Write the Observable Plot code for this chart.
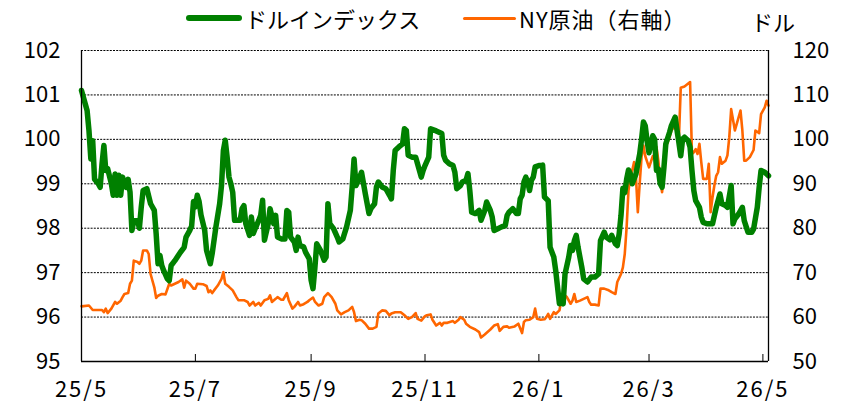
<!DOCTYPE html>
<html><head><meta charset="utf-8">
<script src="https://cdn.jsdelivr.net/npm/d3@7"></script>
<script src="https://cdn.jsdelivr.net/npm/@observablehq/plot@0.6"></script>
<style>
body{margin:0;background:#fff;}
#wrap{position:relative;width:847px;height:403px;font-family:'Noto Sans CJK JP',sans-serif;overflow:hidden;}
#legend{position:relative;width:847px;height:38px;}
.sw{position:absolute;border-radius:3px;}
.lt{position:absolute;font-size:22px;line-height:22px;color:#000;white-space:nowrap;}
</style></head><body>
<div id="wrap"><div id="legend"></div><div id="chart"></div></div>
<script>
const seriesNames = ["ドルインデックス", "NY原油（右軸）"];
const seriesColors = ["#008000", "#ff6600"];
const unitLabel = "ドル";
const leftTicks = [95, 96, 97, 98, 99, 100, 101, 102];
const rightTicks = [50, 60, 70, 80, 90, 100, 110, 120];
const tickDates = ["2025-05-01","2025-07-01","2025-09-01","2025-11-01","2026-01-01","2026-03-01","2026-05-01"];
const tickLabels = ["25/5","25/7","25/9","25/11","26/1","26/3","26/5"];
const xDomain = ["2025-05-01","2026-05-04"];

const dxDates = ["2025-05-01","2025-05-04","2025-05-05","2025-05-06","2025-05-07","2025-05-08","2025-05-10","2025-05-11","2025-05-12","2025-05-13","2025-05-14","2025-05-15","2025-05-17","2025-05-18","2025-05-19","2025-05-20","2025-05-21","2025-05-22","2025-05-23","2025-05-25","2025-05-26","2025-05-27","2025-05-28","2025-05-29","2025-05-31","2025-06-01","2025-06-02","2025-06-03","2025-06-05","2025-06-07","2025-06-09","2025-06-10","2025-06-11","2025-06-12","2025-06-13","2025-06-14","2025-06-16","2025-06-17","2025-06-18","2025-06-20","2025-06-23","2025-06-25","2025-06-26","2025-06-28","2025-06-29","2025-06-30","2025-07-01","2025-07-02","2025-07-03","2025-07-04","2025-07-06","2025-07-07","2025-07-09","2025-07-10","2025-07-12","2025-07-14","2025-07-15","2025-07-16","2025-07-17","2025-07-18","2025-07-19","2025-07-20","2025-07-21","2025-07-22","2025-07-24","2025-07-25","2025-07-26","2025-07-27","2025-07-28","2025-07-30","2025-07-31","2025-08-01","2025-08-02","2025-08-04","2025-08-05","2025-08-06","2025-08-07","2025-08-09","2025-08-10","2025-08-12","2025-08-13","2025-08-14","2025-08-16","2025-08-18","2025-08-19","2025-08-20","2025-08-21","2025-08-23","2025-08-24","2025-08-25","2025-08-26","2025-08-28","2025-08-29","2025-08-31","2025-09-01","2025-09-02","2025-09-03","2025-09-04","2025-09-06","2025-09-08","2025-09-09","2025-09-10","2025-09-11","2025-09-13","2025-09-15","2025-09-16","2025-09-18","2025-09-20","2025-09-22","2025-09-23","2025-09-24","2025-09-25","2025-09-27","2025-09-28","2025-09-30","2025-10-02","2025-10-03","2025-10-05","2025-10-06","2025-10-07","2025-10-09","2025-10-11","2025-10-13","2025-10-14","2025-10-15","2025-10-16","2025-10-18","2025-10-20","2025-10-21","2025-10-22","2025-10-23","2025-10-25","2025-10-27","2025-10-28","2025-10-30","2025-10-31","2025-11-01","2025-11-03","2025-11-04","2025-11-07","2025-11-10","2025-11-11","2025-11-12","2025-11-14","2025-11-16","2025-11-17","2025-11-18","2025-11-20","2025-11-21","2025-11-23","2025-11-24","2025-11-25","2025-11-26","2025-11-28","2025-11-30","2025-12-01","2025-12-03","2025-12-04","2025-12-06","2025-12-07","2025-12-08","2025-12-10","2025-12-12","2025-12-14","2025-12-15","2025-12-16","2025-12-18","2025-12-20","2025-12-21","2025-12-22","2025-12-23","2025-12-24","2025-12-25","2025-12-26","2025-12-27","2025-12-28","2025-12-29","2025-12-30","2026-01-01","2026-01-02","2026-01-03","2026-01-04","2026-01-06","2026-01-07","2026-01-09","2026-01-10","2026-01-12","2026-01-13","2026-01-14","2026-01-15","2026-01-17","2026-01-18","2026-01-19","2026-01-20","2026-01-21","2026-01-22","2026-01-24","2026-01-25","2026-01-27","2026-01-29","2026-01-31","2026-02-02","2026-02-03","2026-02-05","2026-02-06","2026-02-08","2026-02-09","2026-02-11","2026-02-12","2026-02-13","2026-02-14","2026-02-15","2026-02-16","2026-02-17","2026-02-18","2026-02-19","2026-02-20","2026-02-22","2026-02-23","2026-02-24","2026-02-25","2026-02-26","2026-02-27","2026-02-28","2026-03-01","2026-03-03","2026-03-04","2026-03-05","2026-03-06","2026-03-07","2026-03-08","2026-03-09","2026-03-10","2026-03-12","2026-03-13","2026-03-15","2026-03-16","2026-03-17","2026-03-18","2026-03-19","2026-03-20","2026-03-22","2026-03-23","2026-03-24","2026-03-25","2026-03-26","2026-03-28","2026-03-29","2026-03-30","2026-04-01","2026-04-03","2026-04-04","2026-04-06","2026-04-08","2026-04-09","2026-04-11","2026-04-12","2026-04-14","2026-04-15","2026-04-16","2026-04-18","2026-04-20","2026-04-21","2026-04-23","2026-04-25","2026-04-26","2026-04-28","2026-04-29","2026-04-30","2026-05-02","2026-05-04"];
const dxValues = [101.1,100.65,100.2,99.56,99.97,99.1,99.0,98.92,99.45,99.86,99.3,99.34,99.0,98.74,99.22,98.74,99.19,98.74,99.15,98.92,99.1,98.81,97.95,98.17,98.17,98.0,98.47,98.85,98.89,98.55,98.4,97.87,97.2,97.39,97.16,97.05,96.86,96.82,97.16,97.27,97.46,97.57,97.8,97.95,98.05,98.6,98.48,98.74,98.6,98.3,97.95,97.5,97.2,97.43,98.03,98.55,98.96,99.75,99.98,99.6,99.15,99.0,98.81,98.18,98.18,98.18,98.44,98.51,98.1,97.84,98.25,97.88,97.99,98.18,98.29,98.63,97.73,98.1,98.44,98.1,98.29,97.8,97.76,97.76,98.4,98.36,97.8,97.69,97.5,97.8,97.61,97.58,97.46,97.31,96.83,96.64,97.1,97.65,97.5,97.28,97.35,98.55,98.1,97.99,97.8,97.69,97.76,98.03,98.4,98.93,99.56,98.96,99.15,99.26,98.78,98.33,98.44,98.55,98.93,99.04,98.93,98.89,98.74,98.66,99.3,99.75,99.83,99.9,100.24,100.2,99.64,99.6,99.6,99.45,99.15,99.3,99.41,99.6,100.24,100.19,100.13,99.64,99.53,99.45,99.41,99.26,98.89,98.96,99.04,99.08,99.23,98.85,98.36,98.33,98.4,98.18,98.4,98.59,98.4,98.25,97.95,97.99,98.03,98.06,98.29,98.36,98.44,98.33,98.33,98.66,98.74,99.04,99.15,99.04,98.85,99.08,99.15,99.38,99.41,99.41,99.42,98.7,98.62,97.57,97.35,97.05,96.3,96.37,96.3,96.97,97.35,97.61,97.5,97.72,97.84,97.57,97.12,96.86,96.79,96.9,96.9,96.97,97.72,97.91,97.8,97.74,97.84,97.65,97.61,97.87,98.29,98.9,98.8,99.1,99.31,99.22,99.0,99.22,99.45,99.67,100.0,100.39,100.3,99.95,99.7,100.08,100.0,99.3,99.33,99.0,98.92,99.37,99.9,100.16,100.31,100.5,100.2,99.93,99.63,100.01,100.05,99.97,99.82,99.3,98.85,98.62,98.47,98.25,98.13,98.1,98.1,98.1,98.47,98.77,98.55,98.51,98.47,98.96,98.1,98.21,98.32,98.47,98.17,97.91,97.91,97.98,98.47,98.92,99.3,99.26,99.18];

const oilDates = ["2025-05-01","2025-05-05","2025-05-07","2025-05-09","2025-05-12","2025-05-13","2025-05-14","2025-05-15","2025-05-17","2025-05-19","2025-05-20","2025-05-22","2025-05-23","2025-05-24","2025-05-26","2025-05-27","2025-05-28","2025-05-29","2025-05-31","2025-06-01","2025-06-02","2025-06-03","2025-06-05","2025-06-06","2025-06-07","2025-06-09","2025-06-10","2025-06-11","2025-06-13","2025-06-15","2025-06-17","2025-06-18","2025-06-20","2025-06-22","2025-06-24","2025-06-25","2025-06-26","2025-06-28","2025-06-30","2025-07-01","2025-07-02","2025-07-05","2025-07-07","2025-07-08","2025-07-09","2025-07-10","2025-07-11","2025-07-13","2025-07-15","2025-07-16","2025-07-17","2025-07-19","2025-07-21","2025-07-23","2025-07-24","2025-07-27","2025-07-29","2025-07-30","2025-08-01","2025-08-02","2025-08-04","2025-08-05","2025-08-07","2025-08-09","2025-08-10","2025-08-11","2025-08-13","2025-08-14","2025-08-16","2025-08-17","2025-08-19","2025-08-20","2025-08-22","2025-08-23","2025-08-25","2025-08-26","2025-08-28","2025-08-30","2025-08-31","2025-09-02","2025-09-03","2025-09-05","2025-09-07","2025-09-08","2025-09-10","2025-09-12","2025-09-14","2025-09-15","2025-09-17","2025-09-19","2025-09-21","2025-09-23","2025-09-24","2025-09-25","2025-09-27","2025-09-28","2025-09-30","2025-10-02","2025-10-04","2025-10-06","2025-10-07","2025-10-09","2025-10-11","2025-10-13","2025-10-14","2025-10-16","2025-10-19","2025-10-21","2025-10-23","2025-10-25","2025-10-27","2025-10-28","2025-10-30","2025-11-01","2025-11-02","2025-11-04","2025-11-05","2025-11-07","2025-11-09","2025-11-10","2025-11-11","2025-11-13","2025-11-16","2025-11-17","2025-11-19","2025-11-20","2025-11-22","2025-11-23","2025-11-25","2025-11-28","2025-11-30","2025-12-01","2025-12-03","2025-12-06","2025-12-08","2025-12-10","2025-12-11","2025-12-13","2025-12-15","2025-12-16","2025-12-19","2025-12-21","2025-12-23","2025-12-24","2025-12-25","2025-12-27","2025-12-29","2025-12-30","2025-12-31","2026-01-02","2026-01-04","2026-01-05","2026-01-06","2026-01-07","2026-01-09","2026-01-10","2026-01-12","2026-01-13","2026-01-14","2026-01-16","2026-01-18","2026-01-19","2026-01-20","2026-01-21","2026-01-23","2026-01-25","2026-01-27","2026-01-28","2026-01-29","2026-01-31","2026-02-02","2026-02-03","2026-02-05","2026-02-07","2026-02-09","2026-02-11","2026-02-12","2026-02-14","2026-02-15","2026-02-16","2026-02-17","2026-02-18","2026-02-19","2026-02-20","2026-02-21","2026-02-22","2026-02-23","2026-02-24","2026-02-25","2026-02-26","2026-02-27","2026-03-01","2026-03-03","2026-03-04","2026-03-05","2026-03-06","2026-03-07","2026-03-08","2026-03-09","2026-03-10","2026-03-12","2026-03-13","2026-03-15","2026-03-17","2026-03-18","2026-03-20","2026-03-23","2026-03-24","2026-03-25","2026-03-26","2026-03-27","2026-03-28","2026-03-29","2026-03-30","2026-04-01","2026-04-02","2026-04-03","2026-04-04","2026-04-05","2026-04-06","2026-04-07","2026-04-08","2026-04-09","2026-04-11","2026-04-12","2026-04-13","2026-04-14","2026-04-16","2026-04-17","2026-04-19","2026-04-20","2026-04-21","2026-04-22","2026-04-24","2026-04-26","2026-04-27","2026-04-29","2026-04-30","2026-05-02","2026-05-03","2026-05-04"];
const oilValues = [62.4,62.6,61.6,61.6,61.6,61.1,61.9,60.9,61.9,63.4,63.0,63.7,64.5,65.2,65.4,67.5,68.2,72.7,72.4,72.0,72.7,75.0,75.0,74.2,69.7,66.7,64.3,64.8,65.2,65.1,67.5,67.1,67.5,67.9,68.5,66.6,68.2,67.5,66.4,66.4,67.5,67.4,67.0,65.6,66.0,65.4,66.0,67.1,68.6,70.1,67.5,66.8,66.0,64.5,63.8,63.8,63.4,62.6,63.4,62.6,63.2,62.6,63.8,64.1,64.9,63.4,64.1,64.5,63.9,63.9,65.4,63.8,61.9,62.3,63.4,62.6,62.9,63.4,63.8,64.4,63.5,62.6,63.0,64.5,65.4,64.5,63.0,61.5,60.6,61.1,61.5,62.3,61.1,59.1,59.4,59.3,58.5,57.4,57.4,57.8,60.8,61.5,61.4,60.4,60.8,61.1,61.1,60.4,59.6,60.0,60.9,59.6,59.2,60.2,60.4,60.6,59.4,58.1,58.7,58.1,58.7,58.7,59.1,58.7,59.4,60.0,59.4,58.5,57.8,57.2,56.6,55.4,56.1,57.2,58.1,58.4,56.9,57.8,57.9,57.6,57.9,58.5,56.4,58.9,59.3,59.4,60.0,61.9,59.6,59.4,59.5,60.0,60.7,59.6,61.1,60.7,61.5,63.7,65.2,64.5,63.0,63.7,65.2,63.4,63.7,64.1,64.5,63.4,62.8,62.8,62.6,66.4,66.4,66.1,65.6,65.2,67.9,69.7,71.2,74.2,80.2,88.5,91.5,93.0,94.9,91.5,83.6,90.0,96.0,98.6,96.2,93.7,96.2,96.4,98.3,95.2,90.7,88.1,92.2,98.2,100.5,102.0,103.1,100.1,111.6,111.9,112.9,96.7,97.1,97.8,96.7,99.0,94.8,91.1,91.1,94.5,83.6,86.9,89.6,91.8,92.6,96.0,94.5,95.2,96.4,100.5,106.8,102.0,103.5,106.5,102.0,95.2,95.2,96.0,97.6,102.0,101.4,105.7,107.2,108.7,107.6];

const parse = d3.utcParse("%Y-%m-%d");
const dx = dxDates.map((d, i) => ({date: parse(d), v: dxValues[i]}));
const oil = oilDates.map((d, i) => ({date: parse(d), v: oilValues[i]}));
// map right-axis values onto the left-axis scale
const k = (leftTicks[1] - leftTicks[0]) / (rightTicks[1] - rightTicks[0]);
const toLeft = v => leftTicks[0] + (v - rightTicks[0]) * k;
const tickDateObjs = tickDates.map(parse);
const labelOf = d => tickLabels[tickDateObjs.findIndex(t => +t === +d)];

// legend
const legend = document.getElementById("legend");
const lg = [
  {sw: 186, sww: 56, swh: 6, tx: 245},
  {sw: 463, sww: 53, swh: 3, tx: 519}
];
seriesNames.forEach((name, i) => {
  const s = document.createElement("div");
  s.className = "sw";
  s.style.cssText = `left:${lg[i].sw}px;top:${18 - lg[i].swh/2}px;width:${lg[i].sww}px;height:${lg[i].swh}px;background:${seriesColors[i]};`;
  legend.appendChild(s);
  const t = document.createElement("div");
  t.className = "lt";
  t.style.cssText = `left:${lg[i].tx}px;top:7px;` + (i === 1 ? "letter-spacing:1px;" : "");
  t.textContent = name;
  legend.appendChild(t);
});
const u = document.createElement("div");
u.className = "lt";
u.style.cssText = "left:751px;top:10px;";
u.textContent = unitLabel;
legend.appendChild(u);

const chart = Plot.plot({
  width: 847,
  height: 365,
  marginLeft: 81,
  marginRight: 79,
  marginTop: 12,
  marginBottom: 42,
  style: {fontFamily: "'Noto Sans CJK JP', sans-serif", fontSize: "22px", color: "#000", background: "transparent", overflow: "visible"},
  x: {type: "utc", domain: xDomain.map(parse)},
  y: {domain: [leftTicks[0], leftTicks[leftTicks.length - 1]]},
  marks: [
    Plot.ruleY(leftTicks.slice(1), {stroke: "#000", strokeWidth: 1, strokeDasharray: "2,1.2"}),
    Plot.line(oil, {x: "date", y: d => toLeft(d.v), stroke: seriesColors[1], strokeWidth: 2.6, strokeLinejoin: "round"}),
    Plot.line(dx, {x: "date", y: "v", stroke: seriesColors[0], strokeWidth: 5.5, strokeLinejoin: "round", strokeLinecap: "round"}),
    Plot.ruleX(xDomain.map(parse), {stroke: "#000", strokeWidth: 1.3}),
    Plot.ruleY([leftTicks[0]], {stroke: "#000", strokeWidth: 1.3}),
    Plot.tickX(tickDateObjs, {stroke: "#000", strokeWidth: 1, insetTop: 304}),
    Plot.axisY(leftTicks, {anchor: "left", label: null, tickSize: 0, tickPadding: 21, tickFormat: d => String(d)}),
    Plot.axisY(leftTicks, {anchor: "right", label: null, tickSize: 0, tickPadding: 24, tickFormat: d => String(rightTicks[leftTicks.indexOf(d)])}),
    Plot.axisX(tickDateObjs, {label: null, tickSize: 0, tickPadding: 20, tickFormat: labelOf})
  ]
});
chart.querySelectorAll('g[aria-label="x-axis tick label"] text').forEach(t => t.setAttribute("letter-spacing", "2"));
document.getElementById("chart").appendChild(chart);
</script>
</body></html>
